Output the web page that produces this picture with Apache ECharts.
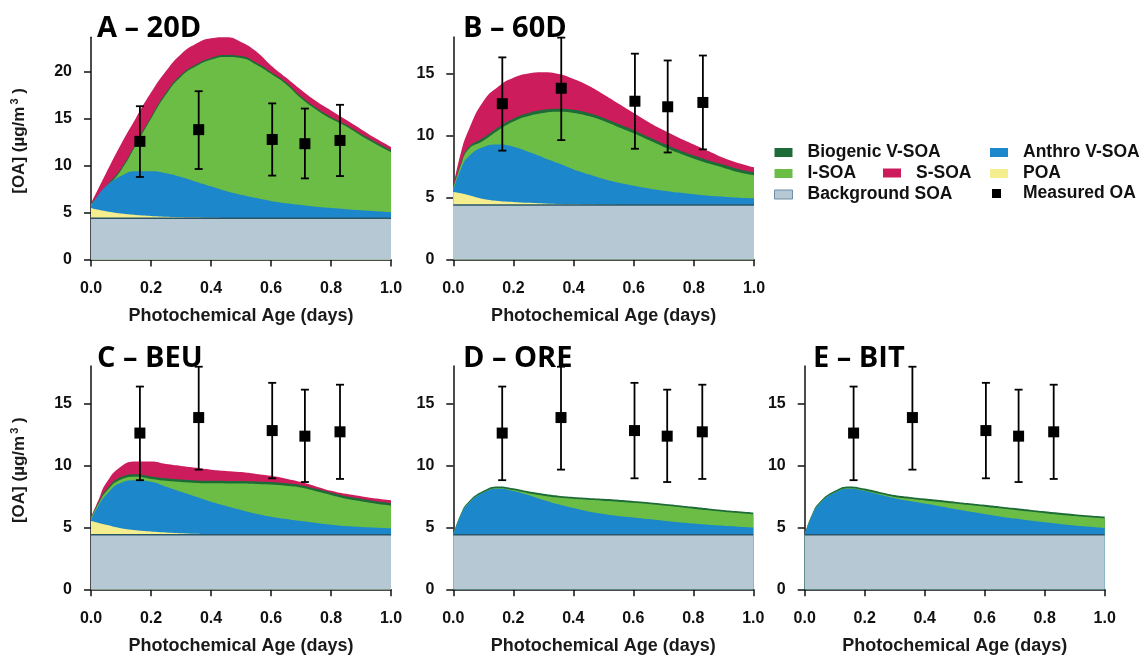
<!DOCTYPE html>
<html>
<head>
<meta charset="utf-8">
<script src="https://cdn.jsdelivr.net/npm/echarts@6/dist/echarts.min.js"></script>
<style>
  html, body { margin: 0; background: #fff; }
  #chart { width: 1144px; height: 658px; }
</style>
</head>
<body>
<div id="chart"></div>
<script>
// photochemical age (days) shared by every modelled curve
var ageDays = [0, 0.025, 0.05, 0.1, 0.15, 0.2, 0.25, 0.3, 0.35, 0.4, 0.45, 0.5, 0.55, 0.6, 0.65, 0.7, 0.75, 0.8, 0.85, 0.9, 0.95, 1.0];

// each array = cumulative top of that layer, µg/m3
var backgroundTop = [4.4, 4.4, 4.4, 4.4, 4.4, 4.4, 4.4, 4.4, 4.4, 4.4, 4.4, 4.4, 4.4, 4.4, 4.4, 4.4, 4.4, 4.4, 4.4, 4.4, 4.4, 4.4];

// A - 20D
var aPOA    = [5.5, 5.3, 5.15, 4.9, 4.75, 4.65, 4.57, 4.51, 4.47, 4.44, 4.42, 4.41, 4.4, 4.4, 4.4, 4.4, 4.4, 4.4, 4.4, 4.4, 4.4, 4.4];
var aAnthro = [5.7, 6.9, 7.8, 8.9, 9.4, 9.4, 9.2, 8.8, 8.3, 7.8, 7.3, 6.9, 6.55, 6.25, 6.0, 5.8, 5.62, 5.48, 5.36, 5.25, 5.15, 5.05];
var aISOA   = [5.85, 6.75, 7.65, 9.5, 12.2, 15.0, 17.6, 19.5, 20.6, 21.3, 21.6, 21.5, 20.8, 19.8, 18.7, 17.2, 16.0, 15.0, 14.2, 13.2, 12.3, 11.45];
var aBio    = [5.9, 6.85, 7.8, 9.7, 12.4, 15.2, 17.8, 19.7, 20.8, 21.5, 21.8, 21.7, 21.0, 20.0, 18.9, 17.4, 16.2, 15.2, 14.4, 13.4, 12.5, 11.65];
var aSSOA   = [6.0, 7.6, 9.2, 12.3, 15.1, 17.8, 20.1, 21.9, 23.0, 23.6, 23.7, 23.2, 22.2, 20.7, 19.4, 18.1, 16.9, 15.9, 14.9, 13.9, 12.9, 12.0];

// B - 60D
var bPOA    = [5.45, 5.35, 5.2, 4.88, 4.72, 4.64, 4.57, 4.52, 4.48, 4.45, 4.43, 4.41, 4.4, 4.4, 4.4, 4.4, 4.4, 4.4, 4.4, 4.4, 4.4, 4.4];
var bAnthro = [5.6, 7.3, 8.3, 9.1, 9.3, 9.12, 8.7, 8.23, 7.77, 7.28, 6.88, 6.5, 6.2, 5.96, 5.74, 5.56, 5.4, 5.26, 5.15, 5.07, 4.99, 4.94];
var bISOA   = [5.75, 7.6, 8.9, 9.6, 10.45, 11.15, 11.6, 11.85, 11.95, 11.85, 11.6, 11.2, 10.7, 10.2, 9.65, 9.1, 8.6, 8.15, 7.75, 7.4, 7.05, 6.8];
var bBio    = [5.8, 7.75, 9.05, 9.85, 10.7, 11.4, 11.85, 12.1, 12.2, 12.1, 11.85, 11.45, 10.95, 10.45, 9.9, 9.35, 8.85, 8.4, 8.0, 7.65, 7.3, 7.05];
var bSSOA   = [5.9, 8.6, 10.4, 12.8, 14.0, 14.7, 15.05, 15.15, 15.0, 14.6, 14.05, 13.35, 12.6, 11.85, 11.1, 10.45, 9.85, 9.3, 8.75, 8.2, 7.78, 7.45];

// C - BEU
var cPOA    = [5.5, 5.35, 5.2, 4.92, 4.76, 4.66, 4.58, 4.52, 4.47, 4.43, 4.41, 4.4, 4.4, 4.4, 4.4, 4.4, 4.4, 4.4, 4.4, 4.4, 4.4, 4.4];
var cAnthro = [5.6, 6.75, 7.6, 8.6, 8.8, 8.68, 8.28, 7.87, 7.46, 7.06, 6.72, 6.4, 6.1, 5.86, 5.67, 5.5, 5.35, 5.21, 5.1, 5.02, 4.97, 4.92];
var cISOA   = [5.75, 6.9, 7.85, 8.85, 9.07, 8.9, 8.75, 8.65, 8.58, 8.55, 8.54, 8.53, 8.5, 8.45, 8.35, 8.2, 7.9, 7.6, 7.3, 7.1, 6.9, 6.75];
var cBio    = [5.8, 7.0, 8.0, 9.05, 9.27, 9.1, 8.95, 8.85, 8.78, 8.75, 8.74, 8.73, 8.7, 8.65, 8.55, 8.4, 8.1, 7.8, 7.5, 7.3, 7.1, 6.95];
var cSSOA   = [5.85, 7.2, 8.55, 9.9, 10.3, 10.3, 10.1, 9.95, 9.8, 9.65, 9.55, 9.45, 9.3, 9.15, 8.92, 8.65, 8.3, 7.95, 7.7, 7.5, 7.32, 7.18];

// D - ORE
var dAnthro = [4.42, 5.98, 6.9, 7.78, 8.1, 7.92, 7.6, 7.2, 6.85, 6.55, 6.28, 6.08, 5.92, 5.8, 5.66, 5.53, 5.41, 5.3, 5.2, 5.12, 5.05, 4.98];
var dISOA   = [4.42, 6.0, 6.92, 7.8, 8.15, 8.0, 7.75, 7.55, 7.4, 7.3, 7.22, 7.15, 7.07, 6.97, 6.87, 6.75, 6.63, 6.5, 6.37, 6.25, 6.15, 6.05];
var dBio    = [4.45, 6.1, 7.05, 7.95, 8.3, 8.15, 7.9, 7.7, 7.55, 7.45, 7.37, 7.3, 7.22, 7.12, 7.02, 6.9, 6.78, 6.65, 6.52, 6.4, 6.3, 6.2];

// E - BIT
var eAnthro = [4.42, 5.98, 6.9, 7.78, 8.1, 7.92, 7.62, 7.35, 7.13, 6.92, 6.7, 6.48, 6.27, 6.07, 5.88, 5.7, 5.54, 5.4, 5.27, 5.15, 5.05, 4.95];
var eISOA   = [4.42, 6.0, 6.92, 7.8, 8.15, 7.97, 7.7, 7.45, 7.3, 7.17, 7.05, 6.92, 6.79, 6.66, 6.53, 6.4, 6.27, 6.14, 6.02, 5.91, 5.81, 5.72];
var eBio    = [4.45, 6.1, 7.05, 7.95, 8.3, 8.12, 7.85, 7.6, 7.45, 7.32, 7.2, 7.07, 6.94, 6.81, 6.68, 6.55, 6.42, 6.29, 6.17, 6.06, 5.96, 5.87];

// measured OA with error bars (same in all panels)
var measuredAge  = [0.163, 0.359, 0.604, 0.713, 0.83];
var measuredOA   = [12.6, 13.85, 12.8, 12.35, 12.7];
var measuredLow  = [8.8, 9.65, 8.95, 8.65, 8.9];
var measuredHigh = [16.35, 17.95, 16.65, 16.1, 16.5];

var yTicksA = [0, 5, 10, 15, 20];
var yTicksOther = [0, 5, 10, 15];
var xTicks = [0, 0.2, 0.4, 0.6, 0.8, 1.0];

var FONT = '"Liberation Sans", Arial, sans-serif';
var colors = {
  'S-SOA': '#cc1c5c',
  'Biogenic V-SOA': '#1d6c37',
  'I-SOA': '#6bbd46',
  'Anthro V-SOA': '#1c87ca',
  'POA': '#f4ee8e',
  'Background SOA': '#b5c8d4'
};

var panels = [
  { title: 'A – 20D', grid: { left: 91, top: 37.3, width: 300, height: 222.2 }, yMax: 23.7, ticks: yTicksA, yName: true,
    layers: [['S-SOA', aSSOA], ['Biogenic V-SOA', aBio], ['I-SOA', aISOA], ['Anthro V-SOA', aAnthro], ['POA', aPOA], ['Background SOA', backgroundTop]] },
  { title: 'B – 60D', grid: { left: 453.3, top: 37, width: 300.7, height: 222.3 }, yMax: 18, ticks: yTicksOther, yName: false,
    layers: [['S-SOA', bSSOA], ['Biogenic V-SOA', bBio], ['I-SOA', bISOA], ['Anthro V-SOA', bAnthro], ['POA', bPOA], ['Background SOA', backgroundTop]] },
  { title: 'C – BEU', grid: { left: 91, top: 366.1, width: 300, height: 223.2 }, yMax: 18, ticks: yTicksOther, yName: true,
    layers: [['S-SOA', cSSOA], ['Biogenic V-SOA', cBio], ['I-SOA', cISOA], ['Anthro V-SOA', cAnthro], ['POA', cPOA], ['Background SOA', backgroundTop]] },
  { title: 'D – ORE', grid: { left: 453.3, top: 366.1, width: 300, height: 223.2 }, yMax: 18, ticks: yTicksOther, yName: false,
    layers: [['Biogenic V-SOA', dBio], ['I-SOA', dISOA], ['Anthro V-SOA', dAnthro], ['Background SOA', backgroundTop]] },
  { title: 'E – BIT', grid: { left: 804.7, top: 366.1, width: 300, height: 223.2 }, yMax: 18, ticks: yTicksOther, yName: false,
    layers: [['Biogenic V-SOA', eBio], ['I-SOA', eISOA], ['Anthro V-SOA', eAnthro], ['Background SOA', backgroundTop]] }
];

var titlePos = [[97, 14], [463, 14], [97, 344], [463, 344], [813, 344]];

var grids = [], xAxes = [], yAxes = [], titles = [], series = [];

function pairs(xs, ys) {
  return xs.map(function (x, i) { return [x, ys[i]]; });
}

panels.forEach(function (p, g) {
  grids.push(Object.assign({ containLabel: false }, p.grid));

  titles.push({
    text: p.title, left: titlePos[g][0], top: titlePos[g][1],
    padding: 0,
    textStyle: { fontFamily: '"Open Sans", sans-serif', fontSize: 29, fontWeight: 'bold', color: '#000' }
  });

  xAxes.push({
    type: 'value', gridIndex: g, min: 0, max: 1, interval: 0.2,
    name: 'Photochemical Age (days)', nameLocation: 'middle', nameGap: 48,
    nameTextStyle: { fontFamily: FONT, fontSize: 18, fontWeight: 'bold', color: '#1a1a1a' },
    axisLine: { lineStyle: { color: '#111', width: 1.5 } },
    axisTick: { length: 7, lineStyle: { color: '#111', width: 1.5 }, customValues: xTicks },
    axisLabel: { margin: 21, fontFamily: FONT, fontSize: 16, fontWeight: 'bold', color: '#111',
      customValues: xTicks, formatter: function (v) { return v.toFixed(1); } },
    splitLine: { show: false }
  });

  yAxes.push({
    type: 'value', gridIndex: g, min: 0, max: p.yMax, interval: 5,
    name: p.yName ? '{t|[OA] (µg/m}{s|3}{t| )}' : '', nameLocation: 'middle', nameGap: 62, nameRotate: 90,
    nameTextStyle: {
      fontFamily: FONT, fontSize: 17, fontWeight: 'bold', color: '#1a1a1a', padding: [0, 0, 0, 15],
      rich: {
        t: { fontFamily: FONT, fontSize: 17, fontWeight: 'bold', color: '#1a1a1a', lineHeight: 20 },
        s: { fontFamily: FONT, fontSize: 11, fontWeight: 'bold', color: '#1a1a1a', verticalAlign: 'top', lineHeight: 20, padding: [0, 0, 8, 2] }
      }
    },
    axisLine: { show: true, lineStyle: { color: '#111', width: 1.5 } },
    axisTick: { show: true, length: 7, lineStyle: { color: '#111', width: 1.5 }, customValues: p.ticks },
    axisLabel: { margin: 19, fontFamily: FONT, fontSize: 16, fontWeight: 'bold', color: '#111', customValues: p.ticks },
    splitLine: { show: false }
  });

  // layers painted from the top one down, each covering the one before
  p.layers.forEach(function (l) {
    var name = l[0];
    var isBack = name === 'Background SOA';
    series.push({
      type: 'line', name: name, xAxisIndex: g, yAxisIndex: g,
      data: pairs(ageDays, l[1]),
      smooth: 0.5,
      symbol: 'none', silent: true, clip: false,
      lineStyle: isBack ? { color: '#2a5568', width: 1.5 } : { width: 0, color: colors[name] },
      areaStyle: { color: colors[name], opacity: 1 },
      itemStyle: { color: colors[name] },
      z: 2
    });
  });

  series.push({
    type: 'custom', name: 'Measured OA range', xAxisIndex: g, yAxisIndex: g,
    data: measuredAge.map(function (x, i) { return [x, measuredLow[i], measuredHigh[i]]; }),
    encode: { x: 0, y: [1, 2] },
    silent: true, z: 5,
    renderItem: function (params, api) {
      var lo = api.coord([api.value(0), api.value(1)]);
      var hi = api.coord([api.value(0), api.value(2)]);
      var half = 4;
      var st = { stroke: '#000', lineWidth: 1.8 };
      return {
        type: 'group',
        children: [
          { type: 'line', shape: { x1: lo[0], y1: lo[1], x2: hi[0], y2: hi[1] }, style: st },
          { type: 'line', shape: { x1: lo[0] - half, y1: lo[1], x2: lo[0] + half, y2: lo[1] }, style: st },
          { type: 'line', shape: { x1: hi[0] - half, y1: hi[1], x2: hi[0] + half, y2: hi[1] }, style: st }
        ]
      };
    }
  });

  series.push({
    type: 'scatter', name: 'Measured OA', xAxisIndex: g, yAxisIndex: g,
    data: pairs(measuredAge, measuredOA),
    symbol: 'rect', symbolSize: 11, silent: true, z: 6,
    itemStyle: { color: '#000', opacity: 1 }
  });
});

var legendText = { fontFamily: FONT, fontSize: 17.5, fontWeight: 'bold', color: '#111', lineHeight: 17.5 };
function legendBox(left, top, names, w, h, textPad) {
  return {
    orient: 'vertical', left: left, top: top, padding: 0, itemGap: 3,
    itemWidth: w, itemHeight: h, icon: 'rect', selectedMode: false,
    itemStyle: { borderWidth: 0, opacity: 1 },
    textStyle: Object.assign({}, legendText, { padding: [0, 0, 0, textPad] }),
    data: names.map(function (n) {
      var item = { name: n };
      if (n === 'Background SOA') item.itemStyle = { color: colors[n], borderColor: '#6f8ea3', borderWidth: 1 };
      return item;
    })
  };
}

var option = {
  animation: false,
  backgroundColor: '#fff',
  title: titles,
  grid: grids,
  xAxis: xAxes,
  yAxis: yAxes,
  legend: [
    legendBox(774, 143.5, ['Biogenic V-SOA', 'I-SOA', 'Background SOA'], 18, 9, 10),
    legendBox(883, 164, ['S-SOA'], 18, 9, 10),
    legendBox(990, 143.5, ['Anthro V-SOA', 'POA'], 18, 9, 10),
    legendBox(992, 184.5, ['Measured OA'], 9, 9, 17)
  ],
  series: series
};

var chart = echarts.init(document.getElementById('chart'), null, { renderer: 'canvas' });
chart.setOption(option);
</script>
</body>
</html>
